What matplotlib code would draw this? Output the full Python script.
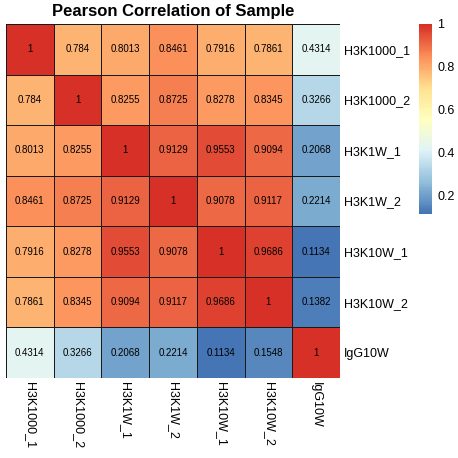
import numpy as np
import matplotlib
matplotlib.use("Agg")
import matplotlib.pyplot as plt
from matplotlib.colors import LinearSegmentedColormap

plt.rcParams['font.family'] = ['Liberation Sans', 'DejaVu Sans']

samples = ["H3K1000_1", "H3K1000_2", "H3K1W_1", "H3K1W_2", "H3K10W_1", "H3K10W_2", "IgG10W"]
corr = [
    [1, 0.784, 0.8013, 0.8461, 0.7916, 0.7861, 0.4314],
    [0.784, 1, 0.8255, 0.8725, 0.8278, 0.8345, 0.3266],
    [0.8013, 0.8255, 1, 0.9129, 0.9553, 0.9094, 0.2068],
    [0.8461, 0.8725, 0.9129, 1, 0.9078, 0.9117, 0.2214],
    [0.7916, 0.8278, 0.9553, 0.9078, 1, 0.9686, 0.1134],
    [0.7861, 0.8345, 0.9094, 0.9117, 0.9686, 1, 0.1382],
    [0.4314, 0.3266, 0.2068, 0.2214, 0.1134, 0.1548, 1],
]
cbar_ticks = [0.2, 0.4, 0.6, 0.8, 1]
cbar_labels = ["0.2", "0.4", "0.6", "0.8", "1"]

mat = np.array(corr)
n = len(samples)

# pheatmap default palette (rev RdYlBu, 7 colours, 100 steps)
pal = ["#4575B4", "#91BFDB", "#E0F3F8", "#FFFFBF", "#FEE090", "#FC8D59", "#D73027"]
cmap = LinearSegmentedColormap.from_list("rdylbu", pal, N=100)
vmin, vmax = mat.min(), mat.max()

fig = plt.figure(figsize=(4.58, 4.58), dpi=100)
ax = fig.add_axes([6/458, 1-378/458, 334/458, 354/458])
mesh = ax.pcolormesh(mat, cmap=cmap, vmin=vmin, vmax=vmax,
                     edgecolor="#1a1a1a", linewidth=0.6)
ax.set_xlim(0, n)
ax.set_ylim(n, 0)
for i in range(n):
    for j in range(n):
        v = mat[i, j]
        ax.text(j + 0.5, i + 0.5, "%g" % v, ha="center", va="center",
                fontsize=7, color="black")

ax.set_xticks(np.arange(n) + 0.5)
ax.set_xticklabels(samples, rotation=270, fontsize=9, va="top")
ax.set_yticks(np.arange(n) + 0.5)
ax.set_yticklabels(samples, fontsize=9)
ax.yaxis.tick_right()
ax.tick_params(length=0, pad=3)
for s in ax.spines.values():
    s.set_visible(False)

ax.set_title("Pearson Correlation of Sample", fontsize=12, fontweight="bold", pad=6)

cax = fig.add_axes([419/458, 1-214/458, 13/458, 190/458])
cb = fig.colorbar(mesh, cax=cax, ticks=cbar_ticks)
cb.ax.set_yticklabels(cbar_labels, fontsize=9)
cb.outline.set_visible(False)
cb.ax.tick_params(length=0, pad=4)

fig.savefig("out.png", dpi=100)
